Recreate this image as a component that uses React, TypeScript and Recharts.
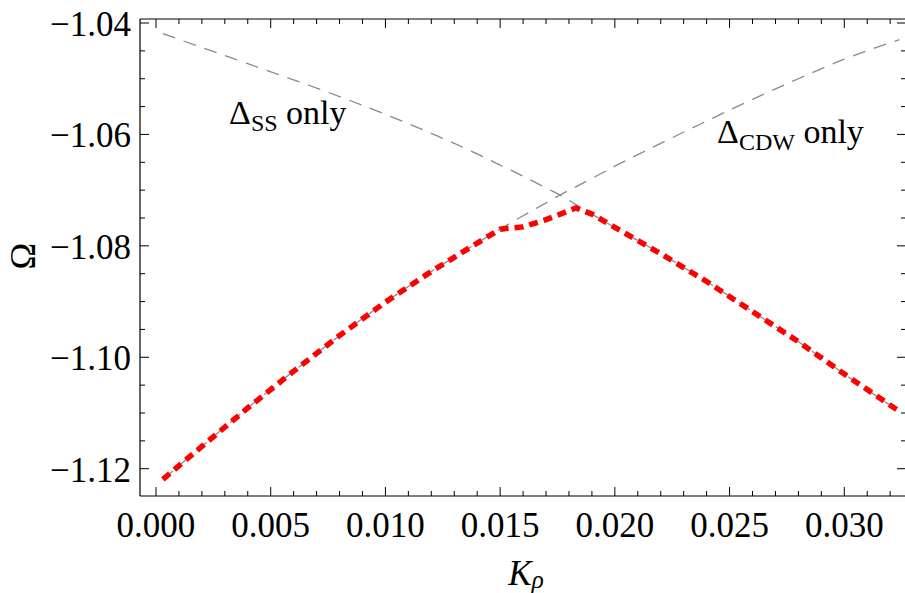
import React from 'react';
import { LineChart, Line, XAxis, YAxis, Customized } from 'recharts';

// K_rho sample points
const kRho = [0.0003, 0.002, 0.004, 0.006, 0.008, 0.010, 0.012, 0.014, 0.015, 0.016, 0.017, 0.018, 0.0183, 0.019, 0.020, 0.022, 0.024, 0.026, 0.028, 0.030, 0.0324];
// Omega with only the CDW gap (rising dashed curve)
const omegaCdw = [-1.1219, -1.1160, -1.1091, -1.1025, -1.0961, -1.0901, -1.0846, -1.0795, -1.0770, -1.0746, -1.0723, -1.0700, -1.0694, -1.0679, -1.0657, -1.0616, -1.0576, -1.0537, -1.0500, -1.0465, -1.0430];
// Omega with only the SS gap (falling dashed curve)
const omegaSs = [-1.0419, -1.0444, -1.0473, -1.0502, -1.0532, -1.0564, -1.0598, -1.0635, -1.0655, -1.0675, -1.0696, -1.0718, -1.0726, -1.0743, -1.0767, -1.0814, -1.0864, -1.0918, -1.0972, -1.1030, -1.1097];
// ground state (red)
const omegaMin = [-1.1219, -1.1160, -1.1091, -1.1025, -1.0961, -1.0901, -1.0846, -1.0795, -1.0770, -1.0766, -1.0753, -1.0737, -1.0732, -1.0743, -1.0767, -1.0814, -1.0864, -1.0918, -1.0972, -1.1030, -1.1097];

const xMajorTicks = [0, 0.005, 0.01, 0.015, 0.02, 0.025, 0.03];
const yMajorTicks = [-1.12, -1.1, -1.08, -1.06, -1.04];

const xDomain = [-0.000697, 0.03269];
const yDomain = [-1.1249, -1.03928];

const data = kRho.map((k, i) => ({ k, cdw: omegaCdw[i], ss: omegaSs[i], min: omegaMin[i] }));

const xTicks: number[] = [];
for (let i = 0; i <= 32; i++) xTicks.push(Math.round(i * 0.001 * 1e6) / 1e6);
const yTicks: number[] = [];
for (let i = 0; i <= 17; i++) yTicks.push(Math.round((-1.12 + i * 0.005) * 1e6) / 1e6);

const font = '"Liberation Serif", "Times New Roman", serif';

const isMajor = (v: number, list: number[]) => list.some((m) => Math.abs(m - v) < 1e-7);

const BottomTick = (props: any) => {
  const { x, y, payload } = props;
  const major = isMajor(payload.value, xMajorTicks);
  return (
    <g>
      <line x1={x} x2={x} y1={y} y2={y - (major ? 9 : 5)} stroke="#000" strokeWidth={1} />
      {major && (
        <text x={x} y={y + 41} textAnchor="middle" fontFamily={font} fontSize={35} fill="#000">
          {payload.value.toFixed(3)}
        </text>
      )}
    </g>
  );
};

const TopTick = (props: any) => {
  const { x, y, payload } = props;
  const major = isMajor(payload.value, xMajorTicks);
  return <line x1={x} x2={x} y1={y} y2={y + (major ? 9 : 5)} stroke="#000" strokeWidth={1} />;
};

const LeftTick = (props: any) => {
  const { x, y, payload } = props;
  const major = isMajor(payload.value, yMajorTicks);
  return (
    <g>
      <line x1={x} x2={x + (major ? 9 : 5)} y1={y} y2={y} stroke="#000" strokeWidth={1} />
      {major && (
        <text x={x - 9} y={y + 13} textAnchor="end" fontFamily={font} fontSize={35} fill="#000">
          {payload.value.toFixed(2).replace('-', '\u2212')}
        </text>
      )}
    </g>
  );
};

const RightTick = (props: any) => {
  const { x, y, payload } = props;
  const major = isMajor(payload.value, yMajorTicks);
  return <line x1={x} x2={x - (major ? 9 : 5)} y1={y} y2={y} stroke="#000" strokeWidth={1} />;
};

const Labels = () => (
  <g fontFamily={font} fill="#000">
    <text x={229} y={124} fontSize={34}>
      Δ<tspan fontSize={24} dy={7}>SS</tspan>
      <tspan fontSize={34} dy={-7}> only</tspan>
    </text>
    <text x={717} y={143} fontSize={34}>
      Δ<tspan fontSize={24} dy={7}>CDW</tspan>
      <tspan fontSize={34} dy={-7}> only</tspan>
    </text>
    <text x={526} y={585} textAnchor="middle" fontSize={35} fontStyle="italic">
      K<tspan fontSize={25} dy={3}>ρ</tspan>
    </text>
    <text x={35} y={256} textAnchor="middle" fontSize={36} transform="rotate(-90, 35, 256)">
      Ω
    </text>
  </g>
);

export default function App() {
  return (
    <div style={{ position: 'absolute', left: 0, top: 0, width: 905, height: 593, overflow: 'hidden', background: '#fff' }}>
      <LineChart width={907} height={593} data={data} margin={{ top: 18, right: 0, bottom: 0, left: 0 }}>
        <XAxis
          dataKey="k"
          type="number"
          domain={xDomain}
          allowDataOverflow
          ticks={xTicks}
          interval={0}
          height={97}
          tickSize={0}
          tickMargin={0}
          tickLine={false}
          axisLine={{ stroke: '#000', strokeWidth: 1.2 }}
          tick={<BottomTick />}
        />
        <XAxis
          xAxisId="top"
          orientation="top"
          dataKey="k"
          type="number"
          domain={xDomain}
          allowDataOverflow
          ticks={xTicks}
          interval={0}
          height={1}
          tickSize={0}
          tickMargin={0}
          tickLine={false}
          axisLine={{ stroke: '#000', strokeWidth: 1.2 }}
          tick={<TopTick />}
        />
        <YAxis
          type="number"
          domain={yDomain}
          allowDataOverflow
          ticks={yTicks}
          interval={0}
          width={140}
          tickSize={0}
          tickMargin={0}
          tickLine={false}
          axisLine={{ stroke: '#000', strokeWidth: 1.2 }}
          tick={<LeftTick />}
        />
        <YAxis
          yAxisId="right"
          orientation="right"
          type="number"
          domain={yDomain}
          allowDataOverflow
          ticks={yTicks}
          interval={0}
          width={1}
          tickSize={0}
          tickMargin={0}
          tickLine={false}
          axisLine={{ stroke: '#000', strokeWidth: 1.2 }}
          tick={<RightTick />}
        />
        <Line dataKey="ss" type="monotone" stroke="#8a8a8a" strokeWidth={1.3} strokeDasharray="13 9" dot={false} isAnimationActive={false} />
        <Line dataKey="cdw" type="monotone" stroke="#8a8a8a" strokeWidth={1.3} strokeDasharray="13 9" dot={false} isAnimationActive={false} />
        <Line dataKey="min" type="linear" stroke="#ff0000" strokeWidth={5.5} strokeDasharray="9 6" dot={false} isAnimationActive={false} />
        <Customized component={<Labels />} />
      </LineChart>
    </div>
  );
}
